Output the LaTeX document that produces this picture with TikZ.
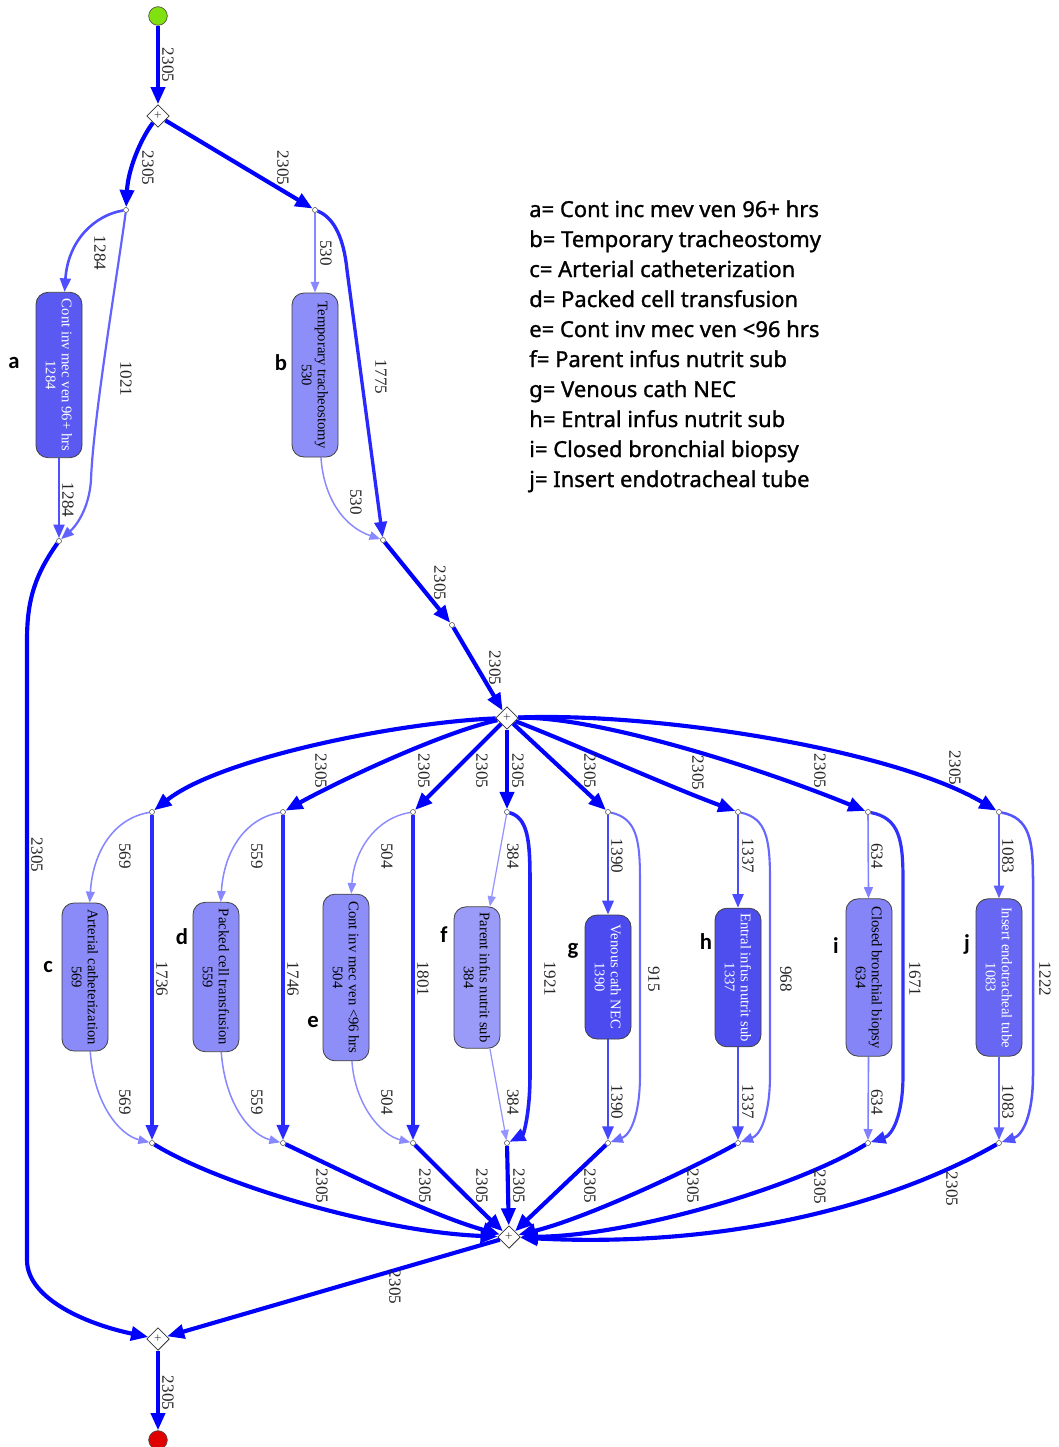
\documentclass[tikz,border=0pt]{standalone}
\usepackage{fontspec}
\setmainfont{Liberation Serif}
\newfontfamily\legfont[FakeBold=1.2]{Noto Sans}
\newfontfamily\letfont{Carlito}
\usetikzlibrary{shapes.geometric,arrows.meta,backgrounds}
\definecolor{startg}{HTML}{80E010}
\definecolor{endr}{HTML}{E00000}
\definecolor{fa}{HTML}{5A5AF2}
\definecolor{fb}{HTML}{8E8EF8}
\definecolor{fc}{HTML}{8A8AF8}
\definecolor{fd}{HTML}{8C8CF8}
\definecolor{fe}{HTML}{8E8EF8}
\definecolor{ff}{HTML}{9A9AF8}
\definecolor{fg}{HTML}{4B4BEF}
\definecolor{fh}{HTML}{4E4EEF}
\definecolor{fi}{HTML}{8585F7}
\definecolor{fj}{HTML}{6767F3}
\tikzset{
 fl/.code={\pgfmathsetmacro\flr{#1/2305}\pgfmathsetmacro\flp{30+70*\flr}\pgfmathsetmacro\flw{0.5+2.6*\flr}\tikzset{line width=\flw pt,draw=blue!\flp!white,-{Triangle[length=5.5pt 2.4,width=4.2pt 2]}}},
 lab/.style={rotate=-90,font=\fontsize{12.8}{13}\selectfont,text=black!85,inner sep=0pt},
 task/.style={rectangle,rounded corners=9pt,rotate=-90,draw=black!75,line width=0.6pt,minimum height=34.5pt,inner sep=1pt,align=center,font=\fontsize{11}{12}\selectfont},
 gw/.style={diamond,draw=black!80,fill=white,line width=0.6pt,minimum width=17pt,minimum height=17pt,inner sep=0pt,font=\fontsize{10}{10}\selectfont,text=black!70},
 pt/.style={circle,draw=black!70,fill=white,line width=0.4pt,minimum size=3.8pt,inner sep=0pt},
 ev/.style={circle,draw=black!70,line width=0.5pt,minimum size=14pt,inner sep=0pt},
 leg/.style={anchor=base west,font=\legfont\fontsize{16.5}{18}\selectfont,inner sep=0pt},
 let/.style={anchor=base,font=\letfont\bfseries\fontsize{17}{18}\selectfont,inner sep=0pt},
}
\begin{document}
\begin{tikzpicture}[x=0.75pt,y=-0.75pt]
\useasboundingbox (0,0) rectangle (1059,1447);
% events and gateways
\node[ev,fill=startg] (start) at (158,16) {};
\node[gw] (g1) at (158,116) {+};
\node[pt] (sa) at (126,210) {};
\node[pt] (sb) at (315,210) {};
\node[task,fill=fa,text=white,minimum width=124pt] (na) at (59,375) {Cont inv mec ven 96+ hrs\\1284};
\node[task,fill=fb,minimum width=123pt] (nb) at (315,375) {Temporary tracheostomy\\530};
\node[pt] (a2) at (59,541) {};
\node[pt] (b2) at (383,540) {};
\node[pt] (pc) at (452,625) {};
\node[gw] (g2) at (507,718) {+};
% split and merge points
\foreach \k/\sx in {c/152,d/283,e/413,f/507,g/608,h/738,i/868,j/999}{
  \node[pt] (s\k) at (\sx,812) {};
  \node[pt] (m\k) at (\sx,1143) {};
}
\node[task,fill=fc,minimum width=111pt] (nc) at (85,977) {Arterial catheterization\\569};
\node[task,fill=fd,minimum width=112pt] (nd) at (216,977) {Packed cell transfusion\\559};
\node[task,fill=fe,minimum width=125pt] (ne) at (346,977.5) {Cont inv mec ven <96 hrs\\504};
\node[task,fill=ff,minimum width=106pt] (nf) at (477,977.5) {Parent infus nutrit sub\\384};
\node[task,fill=fg,text=white,minimum width=93pt] (ng) at (608,977) {Venous cath NEC\\1390};
\node[task,fill=fh,text=white,minimum width=104pt] (nh) at (738,977.5) {Entral infus nutrit sub\\1337};
\node[task,fill=fi,minimum width=118pt] (ni) at (869,977.5) {Closed bronchial biopsy\\634};
\node[task,fill=fj,text=white,minimum width=118pt] (nj) at (999,977.5) {Insert endotracheal tube\\1083};
\node[gw] (g4) at (509,1237) {+};
\node[gw] (g3) at (158,1339) {+};
\node[ev,fill=endr] (end) at (158,1440) {};

\begin{scope}[on background layer]
\fill[white] (0,0) rectangle (1059,1447);
\draw[fl=2305] (start) -- (g1);
\draw[fl=2305] (g1) .. controls (140,140) and (128,170) .. (sa);
\draw[fl=2305] (g1) -- (sb);
\draw[fl=1284] (sa) .. controls (95,215) and (68,240) .. (na);
\draw[fl=1021] (sa) .. controls (118,270) and (93,420) .. (91,480) .. controls (89,510) and (75,527) .. (a2);
\draw[fl=1284] (na) -- (a2);
\draw[fl=530] (sb) -- (nb);
\draw[fl=1775] (sb) .. controls (335,218) and (344,240) .. (347,270) -- (b2);
\draw[fl=530] (nb) .. controls (324,500) and (345,527) .. (b2);
\draw[fl=2305] (a2) .. controls (35,575) and (27,600) .. (27,640) -- (27,1260) .. controls (27,1300) and (90,1325) .. (g3);
\draw[fl=2305] (b2) -- (pc);
\draw[fl=2305] (pc) -- (g2);
% fan out
\draw[fl=2305] (g2) .. controls (400,722) and (220,758) .. (sc);
\draw[fl=2305] (g2) .. controls (440,733) and (335,783) .. (sd);
\draw[fl=2305] (g2) -- (se);
\draw[fl=2305] (g2) -- (sf);
\draw[fl=2305] (g2) -- (sg);
\draw[fl=2305] (g2) .. controls (565,740) and (665,785) .. (sh);
\draw[fl=2305] (g2) .. controls (590,716) and (745,762) .. (si);
\draw[fl=2305] (g2) .. controls (650,712) and (890,748) .. (sj);
% groups
\foreach \k/\sx/\cnt/\dir in {c/152/569/1736,d/283/559/1746,e/413/504/1801}{
  \draw[fl=\cnt] (s\k) .. controls ({\sx-37},818) and ({\sx-59},850) .. (n\k);
  \draw[fl=\dir] (s\k) -- (m\k);
  \draw[fl=\cnt] (n\k) .. controls ({\sx-58},1105) and ({\sx-32},1135) .. (m\k);
}
\foreach \k/\sx/\cnt/\dir/\d in {f/507/384/1921/23,g/608/1390/915/32,h/738/1337/968/32,i/868/634/1671/35,j/999/1083/1222/34}{
  \draw[fl=\cnt] (s\k) -- (n\k);
  \draw[fl=\dir] (s\k) .. controls ({\sx+0.9*\d},818) and ({\sx+\d},840) .. ({\sx+\d},880) -- ({\sx+\d},1075) .. controls ({\sx+\d},1115) and ({\sx+0.7*\d},1135) .. (m\k);
  \draw[fl=\cnt] (n\k) -- (m\k);
}
% fan in
\draw[fl=2305] (mc) .. controls (220,1185) and (380,1232) .. (g4);
\draw[fl=2305] (md) .. controls (340,1170) and (430,1215) .. (g4);
\draw[fl=2305] (me) .. controls (440,1170) and (480,1210) .. (g4);
\draw[fl=2305] (mf) -- (g4);
\draw[fl=2305] (mg) -- (g4);
\draw[fl=2305] (mh) .. controls (680,1175) and (580,1220) .. (g4);
\draw[fl=2305] (mi) .. controls (795,1188) and (630,1236) .. (g4);
\draw[fl=2305] (mj) .. controls (885,1208) and (720,1248) .. (g4);
\draw[fl=2305] (g4) -- (g3);
\draw[fl=2305] (g3) -- (end);
\end{scope}

% edge labels
\node[lab] (l1) at (168,65) {2305};
\node[lab] (l2) at (148,168) {2305};
\node[lab] (l3) at (283,168) {2305};
\node[lab] (l4) at (100,253) {1284};
\node[lab] (l5) at (126,379) {1021};
\node[lab] (l6) at (68,500) {1284};
\node[lab] (l7) at (326,253) {530};
\node[lab] (l8) at (381,377) {1775};
\node[lab] (l9) at (356,502) {530};
\node[lab] (l10) at (37,855) {2305};
\node[lab] (l11) at (440,583) {2305};
\node[lab] (l12) at (495,668) {2305};
\foreach \x/\y in {321/771,424/771,482/771,518/771,590/771,698/773,820/771,955/768}{\node[lab] at (\x,\y) {2305};}
\foreach \x/\t in {125/569,257/559,387/504,513/384,617/1390,748/1337,877/634,1008/1083}{
  \node[lab] at (\x,856) {\t};
  \node[lab] at (\x,1102) {\t};
}
\foreach \x/\t in {162/1736,293/1746,423/1801,550/1921,654/915,786/968,915/1671,1045/1222}{\node[lab] at (\x,979) {\t};}
\foreach \x/\y in {322/1186,425/1186,482/1186,519/1186,590/1186,693/1186,820/1187,952/1189}{\node[lab] at (\x,\y) {2305};}
\node[lab] (l13) at (395,1287) {2305};
\node[lab] (l14) at (168,1393) {2305};

% side letters
\node[let] (ka) at (14,368) {a};
\node[let] (kb) at (281,370) {b};
\node[let] (kc) at (48,972) {c};
\node[let] (kd) at (182,944) {d};
\node[let] (ke) at (313,1027) {e};
\node[let] (kf) at (444,942) {f};
\node[let] (kg) at (573,954) {g};
\node[let] (kh) at (706,949) {h};
\node[let] (ki) at (836,953) {i};
\node[let] (kj) at (967,950) {j};

% legend
\node[leg] (lg1) at (529,217) {a= Cont inc mev ven 96+ hrs};
\node[leg] (lg2) at (529,247) {b= Temporary tracheostomy};
\node[leg] (lg3) at (529,277) {c= Arterial catheterization};
\node[leg] (lg4) at (529,307) {d= Packed cell transfusion};
\node[leg] (lg5) at (529,337) {e= Cont inv mec ven <96 hrs};
\node[leg] (lg6) at (529,367) {f= Parent infus nutrit sub};
\node[leg] (lg7) at (529,397) {g= Venous cath NEC};
\node[leg] (lg8) at (529,427) {h= Entral infus nutrit sub};
\node[leg] (lg9) at (529,457) {i= Closed bronchial biopsy};
\node[leg] (lg10) at (529,487) {j= Insert endotracheal tube};
\end{tikzpicture}
\end{document}
